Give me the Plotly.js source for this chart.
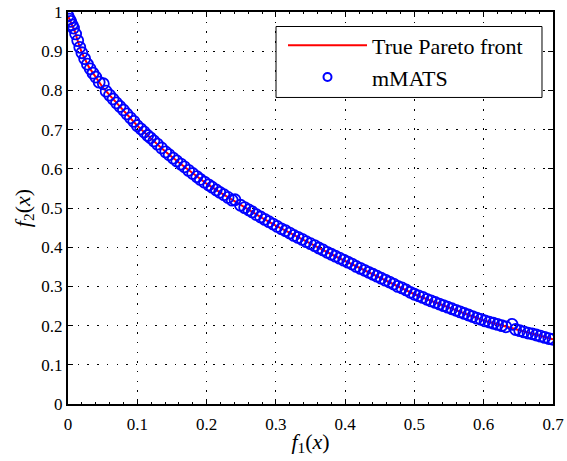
<!DOCTYPE html>
<html>
<head>
<meta charset="utf-8">
<script src="https://cdn.plot.ly/plotly-3.0.1.min.js"></script>
<style>html,body{margin:0;padding:0;background:#fff;}#chart{width:567px;height:461px;}</style>
</head>
<body>
<div id="chart"></div>
<script>
// True Pareto front
const frontF1 = [0.000,0.005,0.010,0.015,0.020,0.030,0.040,0.050,0.060,0.070,0.080,0.090,0.100,0.120,0.140,0.160,0.180,0.200,0.220,0.240,0.260,0.280,0.300,0.320,0.340,0.360,0.380,0.400,0.420,0.440,0.460,0.480,0.500,0.520,0.540,0.560,0.580,0.600,0.620,0.640,0.660,0.680,0.700];
const frontF2 = [0.990,0.972,0.950,0.921,0.896,0.860,0.834,0.808,0.788,0.768,0.750,0.730,0.710,0.677,0.645,0.616,0.588,0.562,0.539,0.517,0.496,0.475,0.455,0.436,0.418,0.400,0.382,0.365,0.348,0.331,0.314,0.297,0.280,0.266,0.252,0.239,0.226,0.213,0.203,0.193,0.183,0.174,0.165];

// mMATS solutions
const mmatsF1 = [0.000,0.002,0.004,0.006,0.008,0.011,0.014,0.017,0.020,0.024,0.028,0.032,0.036,0.040,0.045,0.051,0.055,0.060,0.065,0.070,0.075,0.080,0.085,0.090,0.095,0.100,
0.105,0.110,0.115,0.119,0.124,0.129,0.135,0.141,0.146,0.152,0.157,0.163,0.168,0.174,0.180,0.186,0.191,0.197,
0.203,0.208,0.214,0.219,0.225,0.231,0.237,0.241,0.249,0.255,0.261,0.266,0.272,0.278,0.284,0.290,0.296,
0.302,0.308,0.314,0.320,0.326,0.332,0.338,0.344,0.350,0.356,0.362,0.368,0.374,0.380,0.386,0.392,0.398,
0.404,0.410,0.416,0.422,0.428,0.434,0.440,0.446,0.452,0.458,0.464,0.470,0.476,0.482,0.488,0.494,
0.500,0.506,0.512,0.518,0.524,0.530,0.536,0.542,0.548,0.554,0.560,0.566,0.572,0.578,0.584,0.590,0.596,
0.602,0.608,0.614,0.620,0.626,0.632,0.641,0.646,0.652,0.658,0.664,0.670,0.676,0.682,0.688,0.694,0.700];
const mmatsF2 = [0.990,0.982,0.976,0.967,0.959,0.944,0.927,0.910,0.896,0.881,0.867,0.855,0.844,0.834,0.821,0.817,0.798,0.788,0.778,0.768,0.759,0.750,0.740,0.730,0.721,0.710,
0.702,0.694,0.685,0.679,0.671,0.663,0.653,0.643,0.636,0.627,0.620,0.612,0.605,0.596,0.588,0.580,0.573,0.566,
0.559,0.553,0.546,0.540,0.534,0.527,0.520,0.521,0.507,0.501,0.495,0.490,0.483,0.477,0.471,0.465,0.459,
0.453,0.447,0.442,0.436,0.430,0.425,0.420,0.414,0.409,0.404,0.398,0.393,0.387,0.382,0.377,0.372,0.367,
0.362,0.357,0.351,0.346,0.341,0.336,0.331,0.326,0.321,0.316,0.311,0.306,0.300,0.296,0.291,0.285,
0.280,0.276,0.272,0.267,0.263,0.259,0.255,0.251,0.247,0.243,0.239,0.235,0.231,0.227,0.223,0.219,0.216,
0.212,0.209,0.206,0.203,0.200,0.197,0.203,0.190,0.187,0.184,0.181,0.179,0.176,0.173,0.170,0.167,0.165];

const xTicks = [0,0.1,0.2,0.3,0.4,0.5,0.6,0.7];
const yTicks = [0,0.1,0.2,0.3,0.4,0.5,0.6,0.7,0.8,0.9,1];

const serif = 'Liberation Serif';

const traces = [
  {x: frontF1, y: frontF2, type: 'scatter', mode: 'lines', name: 'True Pareto front',
   line: {color: '#ff0000', width: 2}},
  {x: mmatsF1, y: mmatsF2, type: 'scatter', mode: 'markers', name: 'mMATS', showlegend: false,
   marker: {symbol: 'circle-open', size: 11, color: '#0000ff', line: {width: 1.8, color: '#0000ff'}}},
  {x: [null], y: [null], type: 'scatter', mode: 'markers', name: 'mMATS',
   marker: {symbol: 'circle-open', size: 8, color: '#0000ff', line: {width: 2, color: '#0000ff'}}}
];

const axisCommon = {
  showline: true, linecolor: '#000', linewidth: 2, mirror: 'ticks',
  ticks: 'inside', ticklen: 5, tickwidth: 1, tickcolor: '#000',
  showgrid: true, gridcolor: '#000', gridwidth: 1, griddash: '1.5px,8.2px',
  zeroline: false, tickfont: {family: serif, size: 17, color: '#000'}
};

const layout = {
  width: 567, height: 461,
  font: {family: serif, color: '#000'},
  margin: {l: 68, r: 14, t: 12, b: 57},
  paper_bgcolor: '#fff', plot_bgcolor: '#fff',
  showlegend: true,
  legend: {x: 0.4433, y: 0.968, xanchor: 'left', yanchor: 'top',
    borderwidth: 0, bgcolor: 'rgba(0,0,0,0)',
    font: {family: serif, size: 22, color: '#000'},
    itemwidth: 79, tracegroupgap: 0},
  shapes: [
    {type: 'rect', xref: 'paper', yref: 'paper', x0: 0.4289, x1: 0.9773, y0: 0.782, y1: 0.963,
     line: {color: '#000', width: 1}, fillcolor: '#fff', layer: 'above'}
  ],
  xaxis: Object.assign({}, axisCommon, {
    range: [0, 0.7], tickvals: xTicks, ticktext: xTicks.map(String), ticklabelstandoff: 4,
    minor: {ticks: 'inside', ticklen: 2, dtick: 0.02, tickcolor: '#000', showgrid: false},
    title: {text: '<i>f</i><sub>1</sub>(<i>x</i>)', font: {family: serif, size: 22, color: '#000'}, standoff: 0}
  }),
  yaxis: Object.assign({}, axisCommon, {
    range: [0, 1], tickvals: yTicks, ticktext: yTicks.map(String),
    title: {text: '<i>f</i><sub>2</sub>(<i>x</i>)', font: {family: serif, size: 22, color: '#000'}, standoff: 5}
  })
};

Plotly.newPlot('chart', traces, layout, {displayModeBar: false, staticPlot: true});
</script>
</body>
</html>
